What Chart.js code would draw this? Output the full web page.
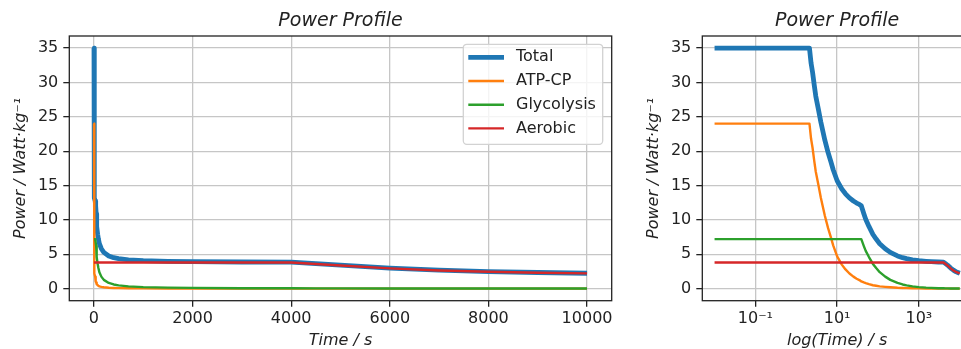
<!DOCTYPE html>
<html>
<head>
<meta charset="utf-8">
<script src="https://cdn.jsdelivr.net/npm/chart.js@4.4.1/dist/chart.umd.min.js"></script>
<style>
  html, body { margin: 0; padding: 0; background: #fff; overflow: hidden; width: 961px; height: 349px; }
  .panel { position: absolute; top: 0; }
</style>
</head>
<body>
<div class="panel" style="left:0"><canvas id="linearChart" width="625" height="349"></canvas></div>
<div class="panel" style="left:633px"><canvas id="logChart" width="350" height="349"></canvas></div>
<script>
// Sample times (s) shared by every series
const timeS = [0.01, 0.1, 0.5, 1, 2.1, 2.3, 2.5, 2.75, 3, 3.5, 4, 5, 6, 7, 8, 10, 13, 16, 20, 25, 30, 35, 39,
  45, 50, 60, 75, 90, 110, 150, 200, 300, 400, 500, 700, 1000, 1500, 2000, 3000, 4000,
  4500, 5000, 6000, 7000, 8000, 9000, 10000];

// Power in W/kg for each energy system and their total
const atpCp = [24, 24, 24, 24, 24, 21.8, 20.5, 18.6, 17.0, 15.0, 13.2, 10.6, 8.8, 7.5, 6.3, 4.7, 3.5, 2.8, 2.2, 1.75, 1.45, 1.25, 1.05,
  0.9, 0.8, 0.65, 0.5, 0.42, 0.34, 0.26, 0.2, 0.13, 0.1, 0.08, 0.055, 0.04, 0.025, 0.02, 0.013, 0.01,
  0.009, 0.008, 0.006, 0.005, 0.004, 0.004, 0.003];
const glycolysis = [7.2, 7.2, 7.2, 7.2, 7.2, 7.2, 7.2, 7.2, 7.2, 7.2, 7.2, 7.2, 7.2, 7.2, 7.2, 7.2, 7.2, 7.2, 7.2, 7.2, 7.2, 7.2, 7.2,
  6.2, 5.5, 4.6, 3.6, 3.0, 2.4, 1.75, 1.28, 0.83, 0.61, 0.48, 0.34, 0.23, 0.15, 0.11, 0.07, 0.05,
  0.045, 0.04, 0.035, 0.03, 0.026, 0.023, 0.02];
const aerobic = [3.8, 3.8, 3.8, 3.8, 3.8, 3.8, 3.8, 3.8, 3.8, 3.8, 3.8, 3.8, 3.8, 3.8, 3.8, 3.8, 3.8, 3.8, 3.8, 3.8, 3.8, 3.8, 3.8,
  3.8, 3.8, 3.8, 3.8, 3.8, 3.8, 3.8, 3.8, 3.8, 3.8, 3.8, 3.8, 3.8, 3.8, 3.8, 3.8, 3.8,
  3.58, 3.38, 2.95, 2.65, 2.45, 2.32, 2.22];
const total = [35.0, 35.0, 35.0, 35.0, 35.0, 32.8, 31.5, 29.6, 28.0, 26.0, 24.2, 21.6, 19.8, 18.5, 17.3, 15.7, 14.5, 13.8, 13.2, 12.75, 12.45, 12.25, 12.05,
  10.9, 10.1, 9.05, 7.9, 7.22, 6.54, 5.81, 5.28, 4.76, 4.51, 4.36, 4.2, 4.07, 3.98, 3.93, 3.88, 3.86,
  3.63, 3.43, 2.99, 2.69, 2.48, 2.35, 2.24];

const seriesNames = ['Total', 'ATP-CP', 'Glycolysis', 'Aerobic'];
const seriesColors = ['#1f77b4', '#ff7f0e', '#2ca02c', '#d62728'];
const seriesWidths = [4.8, 2.4, 2.4, 2.4];

// Tick positions and labels
const powerTicks = [0, 5, 10, 15, 20, 25, 30, 35];
const timeTicks = [0, 2000, 4000, 6000, 8000, 10000];
const logTimeTicks = [0.1, 10, 1000];
const logTimeTickLabels = ['10⁻¹', '10¹', '10³'];

const chartTitle = 'Power Profile';
const powerTitle = 'Power / Watt·kg⁻¹';
const timeTitle = 'Time / s';
const logTimeTitle = 'log(Time) / s';

const family = 'DejaVu Sans';
const ink = '#222222';
const gridColor = '#c6c6c6';

function buildDatasets() {
  return [total, atpCp, glycolysis, aerobic].map((vals, i) => ({
    label: seriesNames[i],
    data: timeS.map((t, k) => ({ x: t, y: vals[k] })),
    borderColor: seriesColors[i],
    backgroundColor: seriesColors[i],
    borderWidth: seriesWidths[i],
    pointRadius: 0,
    pointHoverRadius: 0,
    tension: 0,
    fill: false,
    order: 4 - i,
    borderJoinStyle: 'round',
    borderCapStyle: 'butt'
  }));
}

const gridOpts = { color: gridColor, lineWidth: 1.3, tickLength: 6, tickColor: ink, tickWidth: 1.3 };

function powerAxis() {
  return {
    type: 'linear',
    min: -1.75,
    max: 36.75,
    afterBuildTicks: s => { s.ticks = powerTicks.map(v => ({ value: v })); },
    afterFit: s => { s.width = 69.3; },
    ticks: { font: { family, size: 16 }, color: ink, padding: 5, callback: v => String(v) },
    grid: gridOpts,
    border: { display: false },
    title: {
      display: true, text: powerTitle, color: ink,
      font: { family, size: 16, style: 'italic', weight: 'normal', lineHeight: 1.2 },
      padding: { top: 11.1, bottom: 0 }
    }
  };
}

function timeAxisBase(text) {
  return {
    afterFit: s => { s.height = 48.3; },
    grid: gridOpts,
    border: { display: false },
    title: {
      display: true, text, color: ink,
      font: { family, size: 16, style: 'italic', weight: 'normal', lineHeight: 1 },
      padding: { top: 0, bottom: 0.5 }
    }
  };
}

// Full box around the plotting area
const frame = {
  id: 'frame',
  afterDatasetsDraw(chart) {
    const { ctx, chartArea: a } = chart;
    ctx.save();
    ctx.strokeStyle = ink;
    ctx.lineWidth = 1.3;
    ctx.strokeRect(a.left, a.top, a.right - a.left, a.bottom - a.top);
    ctx.restore();
  }
};

// Framed legend in the upper right corner of the plotting area
const boxLegend = {
  id: 'boxLegend',
  afterDraw(chart, args, opts) {
    if (!opts.display) return;
    const { ctx, chartArea: a } = chart;
    const w = 139.4, h = 100;
    const x = a.right - 9 - w, y = a.top + 8.3;
    ctx.save();
    ctx.beginPath();
    ctx.roundRect(x, y, w, h, 3.5);
    ctx.fillStyle = 'rgba(255,255,255,0.8)';
    ctx.fill();
    ctx.strokeStyle = '#d2d2d2';
    ctx.lineWidth = 1.3;
    ctx.stroke();
    ctx.font = '16px "DejaVu Sans"';
    ctx.textBaseline = 'middle';
    chart.data.datasets.forEach((ds, i) => {
      const cy = y + 13 + i * 23.7;
      ctx.beginPath();
      ctx.moveTo(x + 5, cy);
      ctx.lineTo(x + 40.7, cy);
      ctx.strokeStyle = ds.borderColor;
      ctx.lineWidth = ds.borderWidth;
      ctx.lineCap = 'butt';
      ctx.stroke();
      ctx.fillStyle = ink;
      ctx.fillText(ds.label, x + 52.7, cy);
    });
    ctx.restore();
  }
};

function commonPlugins(showLegend) {
  return {
    legend: { display: false },
    tooltip: { enabled: false },
    boxLegend: { display: showLegend },
    title: {
      display: true, text: chartTitle, fullSize: false, color: ink,
      font: { family, size: 19, style: 'italic', weight: 'normal', lineHeight: 1.2 },
      padding: { top: 10, bottom: 3.2 }
    }
  };
}

new Chart(document.getElementById('linearChart'), {
  type: 'line',
  data: { datasets: buildDatasets() },
  plugins: [frame, boxLegend],
  options: {
    responsive: false,
    animation: false,
    devicePixelRatio: 1,
    layout: { padding: { left: 0, right: 13.3, top: 0, bottom: 0 } },
    plugins: commonPlugins(true),
    scales: {
      x: Object.assign(timeAxisBase(timeTitle), {
        type: 'linear',
        min: -500,
        max: 10500,
        afterBuildTicks: s => { s.ticks = timeTicks.map(v => ({ value: v })); },
        ticks: { font: { family, size: 16 }, color: ink, padding: 3, maxRotation: 0, callback: v => String(v) }
      }),
      y: powerAxis()
    }
  }
});

new Chart(document.getElementById('logChart'), {
  type: 'line',
  data: { datasets: buildDatasets() },
  plugins: [frame, boxLegend],
  options: {
    responsive: false,
    animation: false,
    devicePixelRatio: 1,
    layout: { padding: { left: 0, right: 11, top: 0, bottom: 0 } },
    plugins: commonPlugins(false),
    scales: {
      x: Object.assign(timeAxisBase(logTimeTitle), {
        type: 'logarithmic',
        min: Math.pow(10, -2.3),
        max: Math.pow(10, 4.3),
        afterBuildTicks: s => { s.ticks = logTimeTicks.map(v => ({ value: v })); },
        ticks: {
          font: { family, size: 16 }, color: ink, padding: 3, maxRotation: 0, autoSkip: false,
          callback: v => logTimeTickLabels[logTimeTicks.indexOf(v)]
        }
      }),
      y: powerAxis()
    }
  }
});
</script>
</body>
</html>
